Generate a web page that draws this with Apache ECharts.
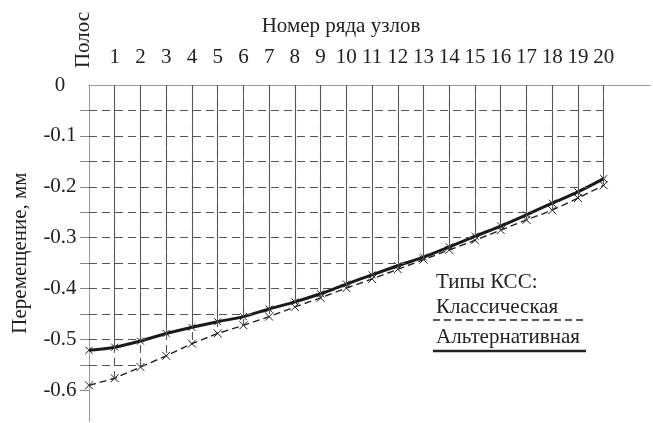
<!DOCTYPE html>
<html>
<head>
<meta charset="utf-8">
<script src="https://cdn.jsdelivr.net/npm/echarts@6/dist/echarts.min.js"></script>
<style>
  html, body { margin: 0; padding: 0; background: #fff; }
  #chart { width: 653px; height: 423px; }
</style>
</head>
<body>
<div id="chart"></div>
<script>
// Node row numbers along the top axis (0 = pole)
const nodes = [0,1,2,3,4,5,6,7,8,9,10,11,12,13,14,15,16,17,18,19,20];
// Displacement, mm — alternative scheme (solid)
const altValues = [-0.521,-0.515,-0.503,-0.488,-0.476,-0.465,-0.455,-0.440,-0.426,-0.410,-0.391,-0.373,-0.355,-0.338,-0.318,-0.297,-0.277,-0.255,-0.232,-0.210,-0.184];
// Displacement, mm — classic scheme (dashed)
const classicValues = [-0.590,-0.576,-0.554,-0.532,-0.508,-0.488,-0.472,-0.455,-0.436,-0.418,-0.399,-0.381,-0.362,-0.343,-0.324,-0.305,-0.285,-0.265,-0.246,-0.222,-0.197];
// Y tick labels and the finer grid levels
const yLabelValues = [0,-0.1,-0.2,-0.3,-0.4,-0.5,-0.6];
const gridLevels = [-0.05,-0.1,-0.15,-0.2,-0.25,-0.3,-0.35,-0.4,-0.45,-0.5,-0.55,-0.6];

const FONT = "'Liberation Serif','Times New Roman',serif";
const TEXT = '#222';

const altPts = nodes.map((n, i) => [n, altValues[i]]);
const classicPts = nodes.map((n, i) => [n, classicValues[i]]);

// first x where a curve passes through level L (linear between nodes)
function crossing(vals, L) {
  for (let i = 0; i < vals.length - 1; i++) {
    const a = vals[i], b = vals[i + 1];
    if ((a - L) * (b - L) <= 0 && a !== b) {
      return nodes[i] + (L - a) / (b - a) * (nodes[i + 1] - nodes[i]);
    }
  }
  return null;
}

// horizontal grid lines run from the axis to where they meet a curve
const hLines = [];
gridLevels.forEach(L => {
  const xs = [crossing(altValues, L), crossing(classicValues, L)].filter(v => v !== null);
  let end;
  if (xs.length) end = Math.min.apply(null, xs);
  else if (L < classicValues[0]) return;
  else end = nodes[nodes.length - 1];
  hLines.push([{ coord: [0, L] }, { coord: [end, L] }]);
});

// vertical drop lines from zero to each curve
const vSolid = nodes.slice(1).map(n => [{ coord: [n, 0] }, { coord: [n, altValues[n]] }]);
const vDashed = nodes.slice(1).map(n => [{ coord: [n, 0] }, { coord: [n, classicValues[n]] }]);

const cross = 'path://M0,0L10,10M10,0L0,10';

const chart = echarts.init(document.getElementById('chart'), null, { renderer: 'canvas' });
chart.setOption({
  backgroundColor: '#fff',
  animation: false,
  textStyle: { fontFamily: FONT, color: TEXT },
  grid: { left: 89, right: 3, top: 85, bottom: 2, containLabel: false, outerBoundsMode: 'none' },
  xAxis: {
    type: 'value',
    position: 'top',
    min: 0, max: 21.8, interval: 1,
    axisLine: { show: true, lineStyle: { color: '#999', width: 1 } },
    axisTick: { show: false },
    splitLine: { show: false },
    axisLabel: {
      margin: 17,
      fontFamily: FONT, fontSize: 21, color: TEXT,
      showMaxLabel: false,
      formatter: v => (v >= 1 && v <= 20) ? String(v) : ''
    }
  },
  yAxis: {
    type: 'value',
    min: -0.66, max: 0,
    name: 'Перемещение, мм',
    nameLocation: 'middle',
    nameGap: 58,
    nameTextStyle: { fontFamily: FONT, fontSize: 21, color: TEXT },
    axisLine: { show: true, lineStyle: { color: '#999', width: 1 } },
    axisTick: {
      show: true, length: 9,
      customValues: gridLevels,
      lineStyle: { color: '#888' }
    },
    splitLine: { show: false },
    axisLabel: {
      margin: 29,
      align: 'center',
      fontFamily: FONT, fontSize: 21, color: TEXT,
      customValues: yLabelValues,
      formatter: v => { const r = Math.round(v * 10) / 10; return r === 0 ? '0' : r.toFixed(1); }
    }
  },
  series: [
    {
      name: 'grid-solid', type: 'line', data: altPts, z: 1,
      showSymbol: false, lineStyle: { width: 0, opacity: 0 }, silent: true,
      markLine: {
        silent: true, symbol: ['none', 'none'], label: { show: false },
        lineStyle: { color: '#555', width: 1, type: 'solid' },
        data: vSolid
      }
    },
    {
      name: 'grid-dashed', type: 'line', data: classicPts, z: 1,
      showSymbol: false, lineStyle: { width: 0, opacity: 0 }, silent: true,
      markLine: {
        silent: true, symbol: ['none', 'none'], label: { show: false },
        lineStyle: { color: '#555', width: 1.1, type: [8, 5] },
        data: vDashed.concat(hLines)
      }
    },
    {
      name: 'Классическая', type: 'line', data: classicPts, z: 3,
      symbol: cross, symbolSize: 8,
      itemStyle: { color: 'none', borderColor: '#222', borderWidth: 1 },
      lineStyle: { color: '#222', width: 1.4, type: [7, 4] }
    },
    {
      name: 'Альтернативная', type: 'line', data: altPts, z: 4, smooth: 0.3,
      symbol: cross, symbolSize: 7,
      itemStyle: { color: 'none', borderColor: '#222', borderWidth: 1 },
      lineStyle: { color: '#1a1a1a', width: 3 }
    }
  ],
  graphic: [
    { type: 'text', x: 341, y: 26, style: { text: 'Номер ряда узлов', font: '21px ' + FONT, fill: TEXT, align: 'center', verticalAlign: 'middle' } },
    { type: 'text', x: 83, y: 40, rotation: Math.PI / 2, style: { text: 'Полос', font: '21px ' + FONT, fill: TEXT, align: 'center', verticalAlign: 'middle' } },
    { type: 'text', x: 436, y: 282, style: { text: 'Типы КСС:', font: '21px ' + FONT, fill: TEXT, verticalAlign: 'middle' } },
    { type: 'text', x: 436, y: 307, style: { text: 'Классическая', font: '21px ' + FONT, fill: TEXT, verticalAlign: 'middle' } },
    { type: 'line', shape: { x1: 433, y1: 320, x2: 585, y2: 320 }, style: { stroke: '#222', lineWidth: 1.5, lineDash: [7, 4] } },
    { type: 'text', x: 436, y: 337, style: { text: 'Альтернативная', font: '21px ' + FONT, fill: TEXT, verticalAlign: 'middle' } },
    { type: 'line', shape: { x1: 433, y1: 351, x2: 586, y2: 351 }, style: { stroke: '#222', lineWidth: 2.5 } }
  ]
});
</script>
</body>
</html>
